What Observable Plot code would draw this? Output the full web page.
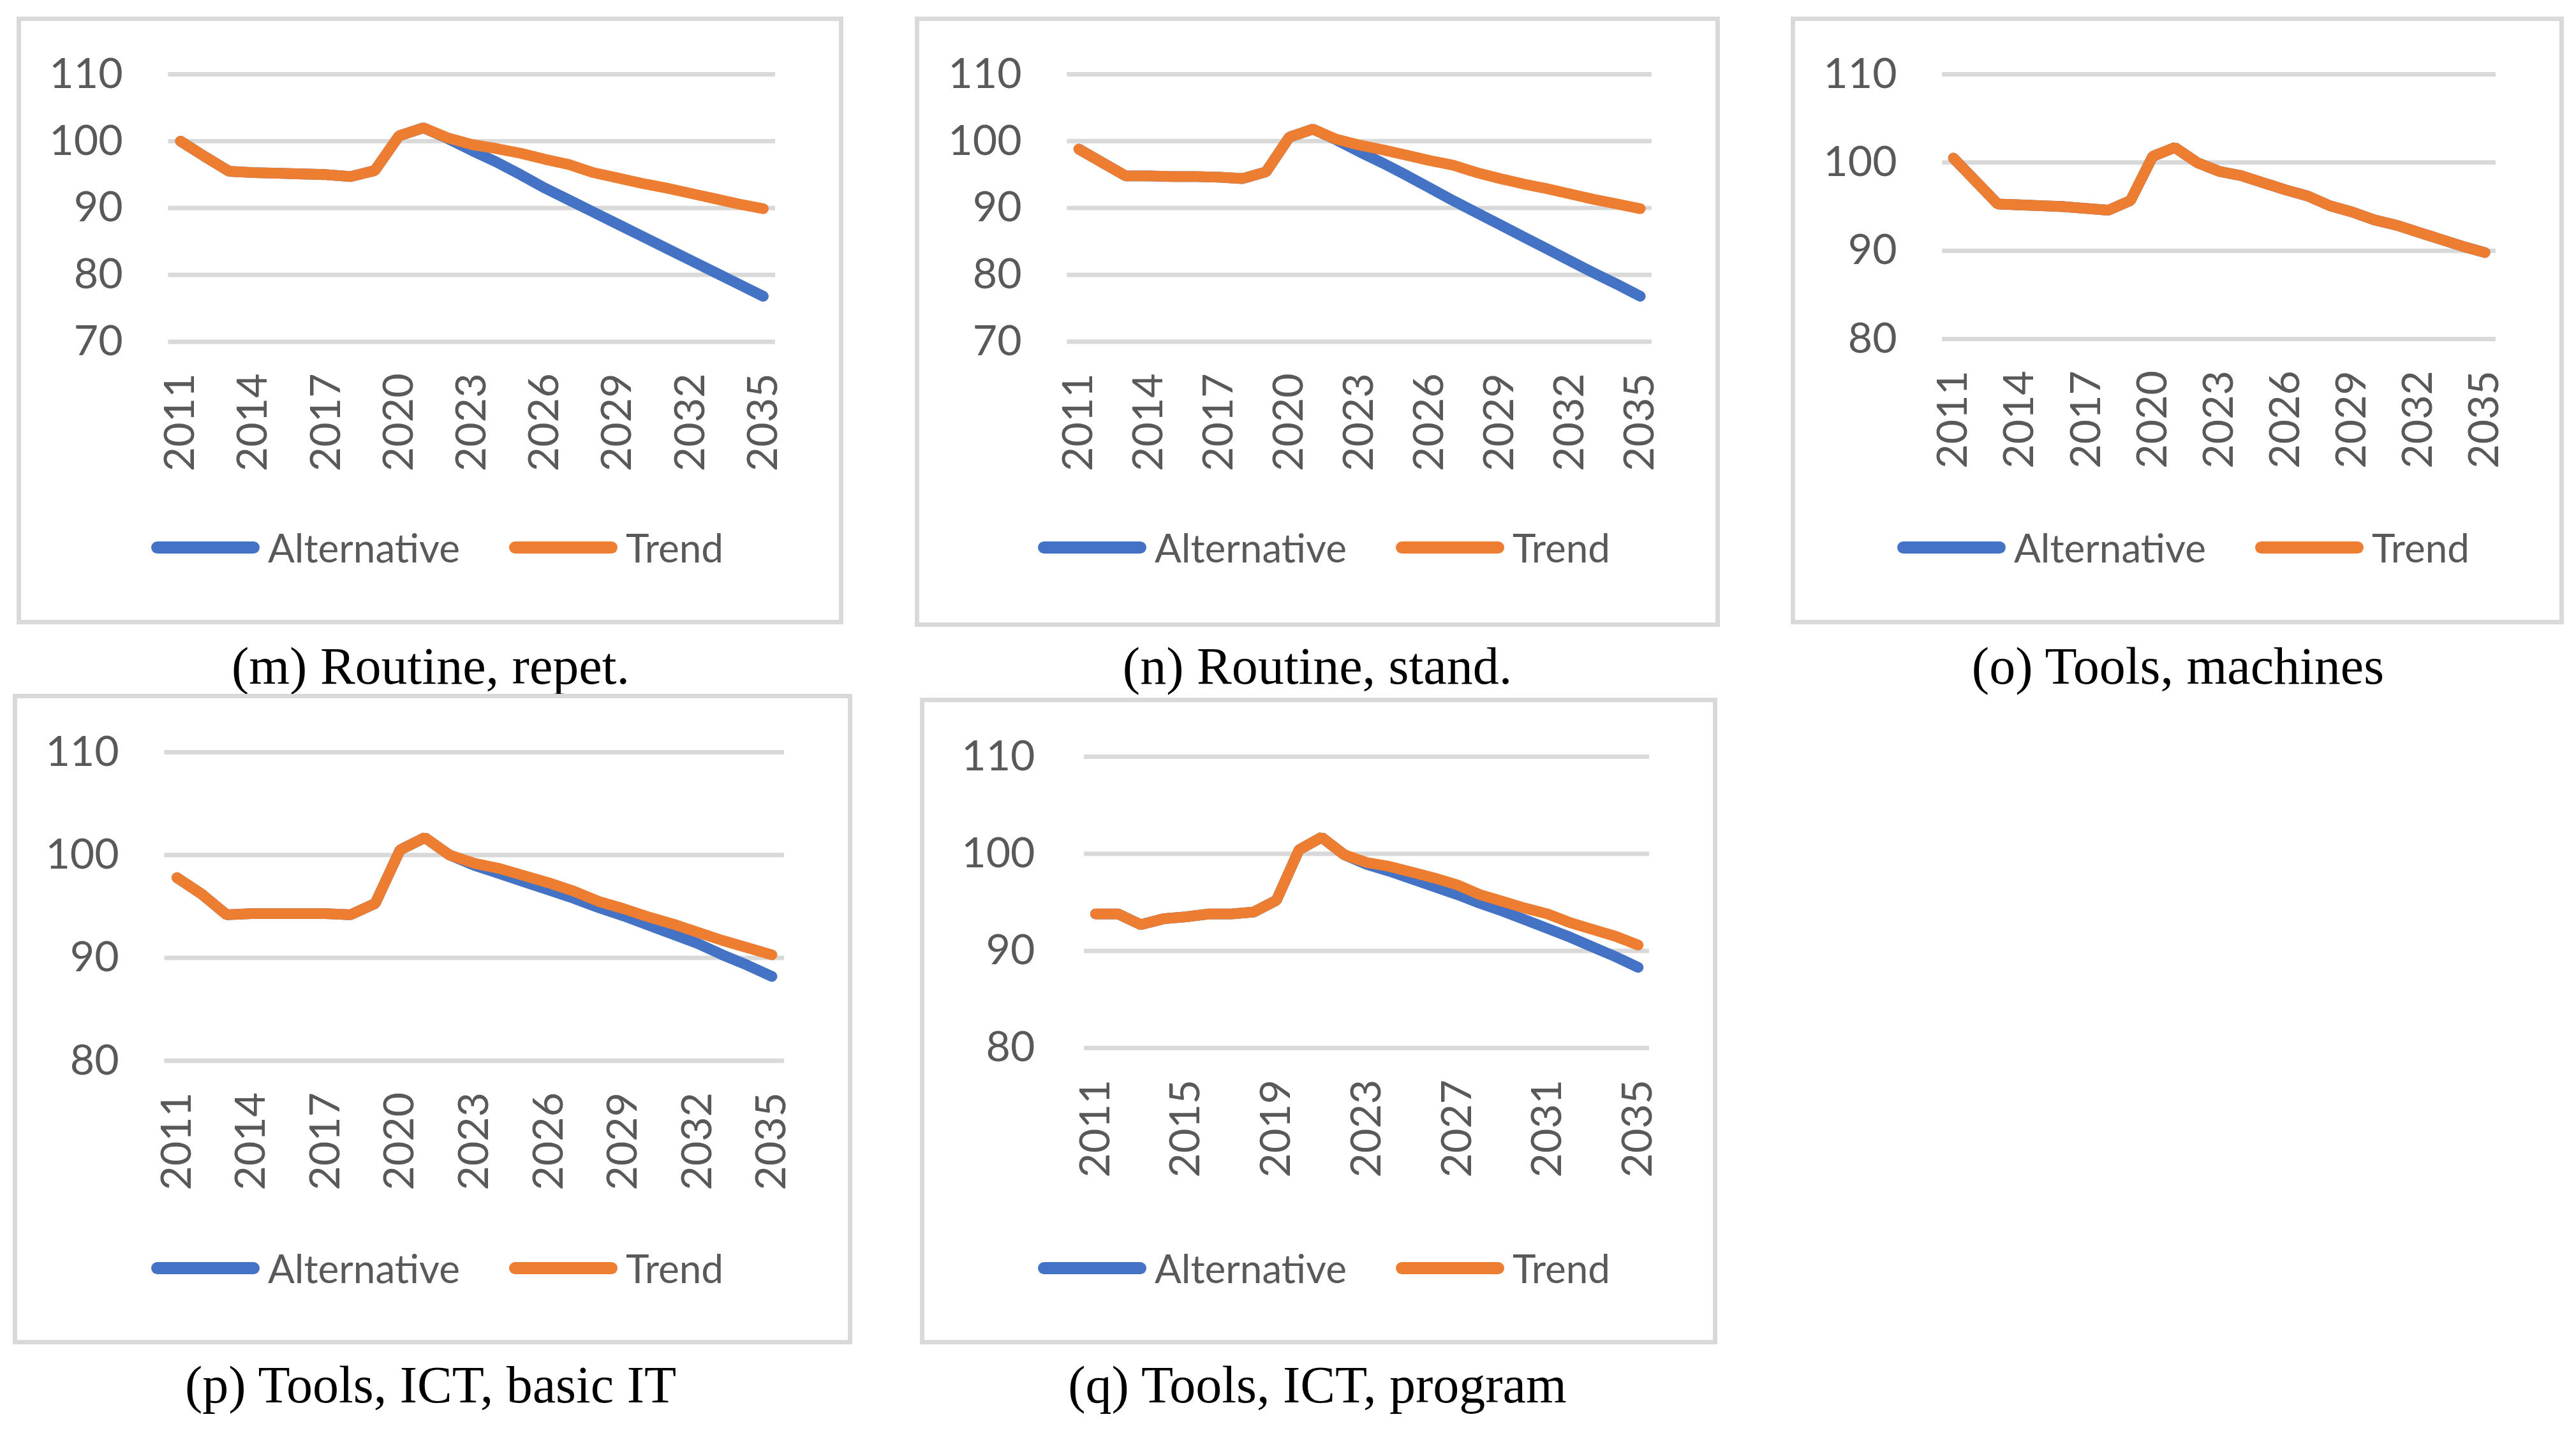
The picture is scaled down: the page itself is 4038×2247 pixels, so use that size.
<!DOCTYPE html>
<html><head><meta charset="utf-8">
<script src="https://cdn.jsdelivr.net/npm/d3@7"></script>
<script src="https://cdn.jsdelivr.net/npm/@observablehq/plot@0.6"></script>
<style>
html,body{margin:0;padding:0;background:#fff;}
#page{position:relative;width:4038px;height:2247px;background:#fff;overflow:hidden;}
.box{position:absolute;box-sizing:border-box;border:7px solid #d9d9d9;background:#fff;}
.box svg{position:absolute;left:-7px;top:-7px;}
.legend{position:absolute;display:flex;align-items:center;font-family:Lato, sans-serif;font-size:62px;color:#595959;white-space:nowrap;transform:translateY(-50%);}
.sw{width:170px;height:19px;border-radius:10px;margin-right:13px;}
.gap{width:77px;}
.caption{position:absolute;transform:translate(-50%,-50%);font-family:"Liberation Serif",serif;font-size:82px;color:#000;white-space:nowrap;}
</style></head>
<body><div id="page"></div>
<script>
const years = [2011,2012,2013,2014,2015,2016,2017,2018,2019,2020,2021,2022,2023,2024,2025,2026,2027,2028,2029,2030,2031,2032,2033,2034,2035];
const ticks3 = [2011,2014,2017,2020,2023,2026,2029,2032,2035];
const ticks4 = [2011,2015,2019,2023,2027,2031,2035];
const yTicksA = [70,80,90,100,110];
const yTicksB = [80,90,100,110];
const seriesNames = ["Alternative","Trend"];
const captions = ["(m) Routine, repet.","(n) Routine, stand.","(o) Tools, machines","(p) Tools, ICT, basic IT","(q) Tools, ICT, program"];

const trendM = [100.0,97.7,95.5,95.3,95.2,95.1,95.0,94.7,95.6,100.8,102.0,100.5,99.5,98.9,98.2,97.3,96.5,95.3,94.5,93.7,93.0,92.2,91.4,90.6,89.9];
const altM   = [100.0,97.7,95.5,95.3,95.2,95.1,95.0,94.7,95.6,100.8,102.0,100.4,98.6,96.9,95.0,93.0,91.2,89.4,87.6,85.8,84.0,82.2,80.4,78.6,76.8];
const trendN = [98.8,96.8,94.8,94.8,94.7,94.7,94.6,94.4,95.4,100.6,101.8,100.3,99.4,98.7,97.9,97.1,96.4,95.3,94.4,93.6,92.9,92.1,91.3,90.6,89.9];
const altN   = [98.8,96.8,94.8,94.8,94.7,94.7,94.6,94.4,95.4,100.6,101.8,100.2,98.4,96.7,94.9,93.0,91.1,89.3,87.5,85.7,83.9,82.1,80.3,78.6,76.8];
const trendO = [100.5,97.9,95.3,95.2,95.1,95.0,94.8,94.6,95.7,100.7,101.7,100.0,99.0,98.5,97.7,96.9,96.2,95.1,94.4,93.5,92.9,92.1,91.3,90.5,89.8];
const altO   = [100.5,97.9,95.3,95.2,95.1,95.0,94.8,94.6,95.7,100.7,101.7,100.0,99.0,98.5,97.7,96.9,96.2,95.1,94.4,93.5,92.9,92.1,91.3,90.5,89.8];
const trendP = [97.8,96.2,94.2,94.3,94.3,94.3,94.3,94.2,95.3,100.5,101.7,100.0,99.2,98.7,98.0,97.3,96.5,95.5,94.8,94.0,93.3,92.5,91.7,91.0,90.3];
const altP   = [97.8,96.2,94.2,94.3,94.3,94.3,94.3,94.2,95.3,100.5,101.7,100.0,99.0,98.2,97.4,96.6,95.8,94.9,94.1,93.2,92.3,91.4,90.3,89.3,88.2];
const trendQ = [93.8,93.8,92.7,93.3,93.5,93.8,93.8,94.0,95.2,100.4,101.7,99.9,99.1,98.7,98.1,97.5,96.8,95.8,95.1,94.4,93.8,92.9,92.2,91.5,90.6];
const altQ   = [93.8,93.8,92.7,93.3,93.5,93.8,93.8,94.0,95.2,100.4,101.7,99.9,98.9,98.2,97.4,96.6,95.8,94.9,94.1,93.2,92.3,91.4,90.4,89.4,88.3];

const colors = {Alternative: "#4472C4", Trend: "#ED7D31"};

const panels = [
  {alt: altM, trend: trendM, xt: ticks3, yt: yTicksA, box: [26,26,1296,953], fr: [240,94,91,515], tp: 72, lg: [211,832], cap: [675,1045]},
  {alt: altN, trend: trendN, xt: ticks3, yt: yTicksA, box: [1434,26,1262,957], fr: [241,94,91,515], tp: 72, lg: [193,832], cap: [2065,1045]},
  {alt: altO, trend: trendO, xt: ticks3, yt: yTicksB, box: [2807,26,1212,953], fr: [240,94,91,511], tp: 72, lg: [167,832], cap: [3414,1045]},
  {alt: altP, trend: trendP, xt: ticks3, yt: yTicksB, box: [20,1088,1316,1020], fr: [240,94,92,581], tp: 72, lg: [217,900], cap: [675,2172]},
  {alt: altQ, trend: trendQ, xt: ticks4, yt: yTicksB, box: [1442,1094,1250,1014], fr: [260,94,93,555], tp: 78, lg: [185,894], cap: [2065,2172]}
];

const page = document.getElementById("page");
panels.forEach((p, i) => {
  const [bx, by, bw, bh] = p.box;
  const [ml, mr, mt, fb] = p.fr;
  const H = fb + 260;
  const box = document.createElement("div");
  box.className = "box";
  Object.assign(box.style, {left: bx + "px", top: by + "px", width: bw + "px", height: bh + "px"});
  const rowsAlt = years.map((year, j) => ({year, value: p.alt[j]}));
  const rowsTrend = years.map((year, j) => ({year, value: p.trend[j]}));
  const chart = Plot.plot({
    width: bw, height: H,
    marginLeft: ml, marginRight: mr, marginTop: mt, marginBottom: H - fb,
    style: {fontFamily: "Lato, sans-serif", fontSize: "67px", color: "#595959", background: "transparent", overflow: "visible"},
    x: {domain: [2010.5, 2035.5]},
    y: {domain: [p.yt[0], p.yt[p.yt.length - 1]]},
    marks: [
      Plot.gridY(p.yt, {stroke: "#d9d9d9", strokeWidth: 7, strokeOpacity: 1}),
      Plot.axisY(p.yt, {tickSize: 0, tickPadding: p.tp, label: null}),
      Plot.axisX(p.xt, {tickSize: 0, tickPadding: 50, tickRotate: -90, tickFormat: d => String(d), label: null}),
      Plot.lineY(rowsAlt, {x: "year", y: "value", stroke: colors.Alternative, strokeWidth: 17, strokeLinecap: "round", strokeLinejoin: "miter"}),
      Plot.lineY(rowsTrend, {x: "year", y: "value", stroke: colors.Trend, strokeWidth: 17, strokeLinecap: "round", strokeLinejoin: "miter"})
    ]
  });
  box.appendChild(chart);
  const lg = document.createElement("div");
  lg.className = "legend";
  lg.style.left = (p.lg[0] - 7) + "px";
  lg.style.top = (p.lg[1] - 7) + "px";
  lg.innerHTML = `<div class="sw" style="background:${colors.Alternative}"></div><span>${seriesNames[0]}</span><div class="gap"></div><div class="sw" style="background:${colors.Trend}"></div><span>${seriesNames[1]}</span>`;
  box.appendChild(lg);
  page.appendChild(box);
  const cap = document.createElement("div");
  cap.className = "caption";
  cap.style.left = p.cap[0] + "px";
  cap.style.top = p.cap[1] + "px";
  cap.textContent = captions[i];
  page.appendChild(cap);
});
</script>
</body></html>
